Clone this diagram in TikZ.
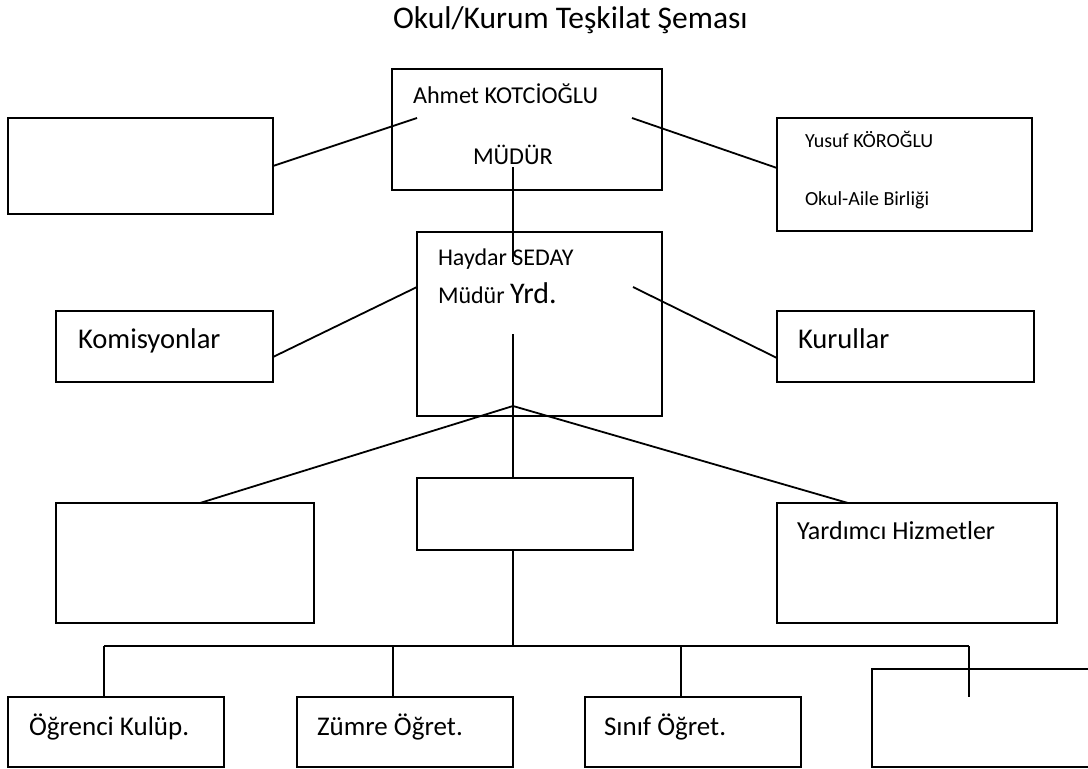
\documentclass[tikz,border=0pt]{standalone}
\usepackage{fontspec}
\setmainfont{Carlito}
\newcommand{\fsz}[1]{\fontsize{#1}{#1}\selectfont}
\begin{document}
\begin{tikzpicture}[x=1pt,y=-1pt,
  box/.style={draw=black,line width=1.8pt,anchor=north west,inner sep=0pt,outer sep=0pt},
  txt/.style={anchor=base west,inner sep=0pt,outer sep=0pt,text=black},
  conn/.style={draw=black,line width=1.8pt}]
\clip (0,0) rectangle (1088,769);
\fill[white] (0,0) rectangle (1088,769);
% title
\node[txt,font=\fsz{31.5}] (title) at (393,28) {Okul/Kurum Teşkilat Şeması};
% boxes
\node[box,minimum width=270pt,minimum height=121pt] (dir) at (392,69) {};
\node[box,minimum width=265pt,minimum height=96pt] (tl) at (8,118) {};
\node[box,minimum width=255pt,minimum height=113pt] (oab) at (777,118) {};
\node[box,minimum width=245pt,minimum height=184pt] (myrd) at (417,232) {};
\node[box,minimum width=217pt,minimum height=71pt] (kom) at (56,311) {};
\node[box,minimum width=257pt,minimum height=71pt] (kur) at (777,311) {};
\node[box,minimum width=258pt,minimum height=120pt] (ml) at (56,503) {};
\node[box,minimum width=216pt,minimum height=72pt] (mc) at (417,478) {};
\node[box,minimum width=280pt,minimum height=120pt] (yh) at (777,503) {};
\node[box,minimum width=216pt,minimum height=70pt] (b1) at (8,697) {};
\node[box,minimum width=216pt,minimum height=70pt] (b2) at (297,697) {};
\node[box,minimum width=216pt,minimum height=70pt] (b3) at (585,697) {};
\node[box,minimum width=260pt,minimum height=98pt] (b4) at (872,669) {};
% texts
\node[txt,font=\fsz{24.2}] (t1) at (413,103) {Ahmet KOTCİOĞLU};
\node[txt,font=\fsz{24.2}] (t2) at (473,164) {MÜDÜR};
\node[txt,font=\fsz{20}] (t3) at (805,147) {Yusuf KÖROĞLU};
\node[txt,font=\fsz{20}] (t4) at (805,205) {Okul-Aile Birliği};
\node[txt,font=\fsz{24}] (t5) at (438,265) {Haydar SEDAY};
\node[txt,font=\fsz{24}] (t6) at (438,303) {Müdür {\fsz{30}Yrd.}};
\node[txt,font=\fsz{28.6}] (t7) at (78,348) {Komisyonlar};
\node[txt,font=\fsz{28.6}] (t8) at (798,348) {Kurullar};
\node[txt,font=\fsz{26}] (t9) at (797,539) {Yardımcı Hizmetler};
\node[txt,font=\fsz{27}] (t10) at (29,735) {Öğrenci Kulüp.};
\node[txt,font=\fsz{27}] (t11) at (317,735) {Zümre Öğret.};
\node[txt,font=\fsz{27}] (t12) at (604,735) {Sınıf Öğret.};
% connector points
\coordinate (dirL) at (417,118);
\coordinate (dirR) at (632,118);
\coordinate (dirC) at (513,167);
\coordinate (dirD) at (513,262);
\coordinate (tlE) at (273,166);
\coordinate (oabW) at (777,168);
\coordinate (myL) at (417,287);
\coordinate (myR) at (633,287);
\coordinate (komE) at (273,357);
\coordinate (kurW) at (777,358);
\coordinate (myC) at (513,334);
\coordinate (apex) at (513,406);
\coordinate (mlN) at (200,503);
\coordinate (yhN) at (848,503);
\coordinate (mcN) at (513,478);
\coordinate (mcS) at (513,550);
\coordinate (hub) at (513,646);
\coordinate (h1) at (104,646);
\coordinate (h2) at (393,646);
\coordinate (h3) at (681,646);
\coordinate (h4) at (969,646);
\coordinate (b1N) at (104,697);
\coordinate (b2N) at (393,697);
\coordinate (b3N) at (681,697);
\coordinate (b4in) at (969,697);
% connectors
\draw[conn] (dirL) -- (tlE);
\draw[conn] (dirR) -- (oabW);
\draw[conn] (dirC) -- (dirD);
\draw[conn] (myL) -- (komE);
\draw[conn] (myR) -- (kurW);
\draw[conn] (myC) -- (mcN);
\draw[conn] (mlN) -- (apex) -- (yhN);
\draw[conn] (mcS) -- (hub);
\draw[conn] (h1) -- (h4);
\draw[conn] (h1) -- (b1N);
\draw[conn] (h2) -- (b2N);
\draw[conn] (h3) -- (b3N);
\draw[conn] (h4) -- (b4in);
\end{tikzpicture}
\end{document}
